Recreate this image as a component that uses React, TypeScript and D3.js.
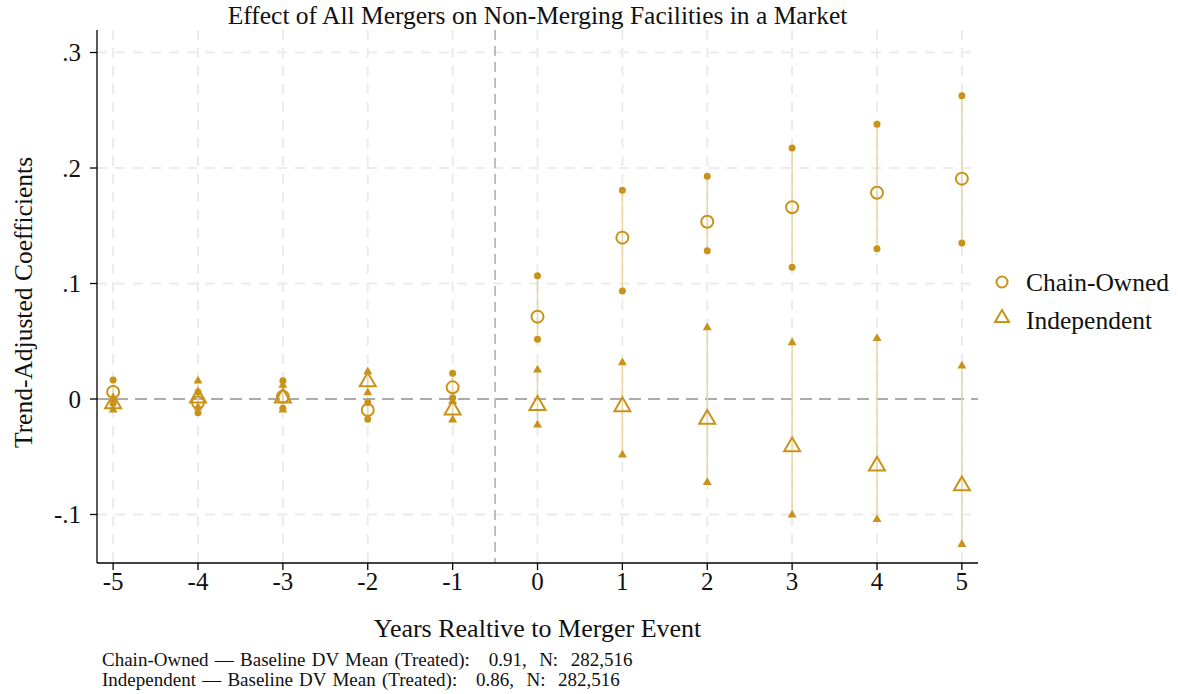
import React from "react";
import * as d3 from "d3";

const years = [-5, -4, -3, -2, -1, 0, 1, 2, 3, 4, 5];
const chainCoef = [0.006, -0.003, 0.002, -0.0095, 0.0101, 0.0713, 0.1397, 0.1535, 0.166, 0.1786, 0.1908];
const chainLo = [-0.004, -0.0118, -0.008, -0.0176, 0.001, 0.0517, 0.0935, 0.1284, 0.114, 0.1302, 0.135];
const chainHi = [0.0164, 0.006, 0.0159, -0.003, 0.0222, 0.1068, 0.1807, 0.1928, 0.2173, 0.2378, 0.2626];
const indCoef = [-0.004, 0.001, 0.001, 0.015, -0.0095, -0.0055, -0.0065, -0.0175, -0.0413, -0.058, -0.075];
const indLo = [-0.0095, -0.007, -0.0095, 0.0055, -0.018, -0.0225, -0.0485, -0.0722, -0.1004, -0.1042, -0.1258];
const indHi = [0.0005, 0.0156, 0.012, 0.0237, -0.002, 0.0251, 0.0315, 0.0618, 0.0488, 0.0525, 0.0286];
const yTicks = [-0.1, 0, 0.1, 0.2, 0.3];
const yTickLabels = ["-.1", "0", ".1", ".2", ".3"];
const legendLabels = ["Chain-Owned", "Independent"];
const notes = [
  "Chain-Owned \u2014 Baseline DV Mean (Treated):\u00a0\u00a0 0.91,\u00a0 N:\u00a0 282,516",
  "Independent \u2014 Baseline DV Mean (Treated):\u00a0\u00a0 0.86,\u00a0 N:\u00a0 282,516",
];

const W = 1178;
const H = 694;
const left = 97;
const right = 978;
const top = 30;
const bottom = 563;
const gold = "#C9931A";
const ciColor = "#E9D6A6";
const font = "'Liberation Serif', 'Times New Roman', serif";

function tri(cx: number, cy: number, s: number) {
  const h = (s * Math.sqrt(3)) / 2;
  return `M${cx},${cy - (2 * h) / 3}L${cx + s / 2},${cy + h / 3}L${cx - s / 2},${cy + h / 3}Z`;
}

export default function App() {
  const x = d3.scaleLinear().domain([-5.19, 5.19]).range([left, right]);
  const y = d3.scaleLinear().domain([-0.142, 0.3195]).range([bottom, top]);

  return (
    <svg width={W} height={H} style={{ position: "absolute", left: 0, top: 0, background: "#fff" }} fontFamily={font}>
      <rect x={0} y={0} width={W} height={H} fill="#fff" />
      {/* grid */}
      {years.map((yr) => (
        <line key={"gx" + yr} x1={x(yr)} x2={x(yr)} y1={top} y2={bottom} stroke="#EBEBEB" strokeWidth={2} strokeDasharray="10,8" />
      ))}
      {yTicks.filter((t) => t !== 0).map((t) => (
        <line key={"gy" + t} x1={left} x2={right} y1={y(t)} y2={y(t)} stroke="#EBEBEB" strokeWidth={2} strokeDasharray="10,8" />
      ))}
      {/* reference lines */}
      <line x1={left} x2={right} y1={y(0)} y2={y(0)} stroke="#ABABAB" strokeWidth={2} strokeDasharray="12,7" />
      <line x1={x(-0.5)} x2={x(-0.5)} y1={top} y2={bottom} stroke="#ABABAB" strokeWidth={1.5} strokeDasharray="10,6" />
      {/* CI lines */}
      {years.map((yr, i) => (
        <g key={"ci" + yr}>
          <line x1={x(yr)} x2={x(yr)} y1={y(chainLo[i])} y2={y(chainHi[i])} stroke={ciColor} strokeWidth={1.5} />
          <line x1={x(yr)} x2={x(yr)} y1={y(indLo[i])} y2={y(indHi[i])} stroke={ciColor} strokeWidth={1.5} />
        </g>
      ))}
      {/* CI end markers */}
      {years.map((yr, i) => (
        <g key={"cm" + yr} fill={gold}>
          <circle cx={x(yr)} cy={y(chainLo[i])} r={3.5} />
          <circle cx={x(yr)} cy={y(chainHi[i])} r={3.5} />
          <path d={tri(x(yr), y(indLo[i]), 9)} />
          <path d={tri(x(yr), y(indHi[i]), 9)} />
        </g>
      ))}
      {/* point estimates */}
      {years.map((yr, i) => (
        <g key={"pt" + yr} fill="none" stroke={gold} strokeWidth={2}>
          <circle cx={x(yr)} cy={y(chainCoef[i])} r={6} />
          <path d={tri(x(yr), y(indCoef[i]), 16)} />
        </g>
      ))}
      {/* axes */}
      <line x1={left} x2={left} y1={top} y2={bottom} stroke="#000" strokeWidth={1.3} />
      <line x1={left} x2={right} y1={bottom} y2={bottom} stroke="#000" strokeWidth={1.3} />
      {yTicks.map((t, i) => (
        <g key={"yt" + t}>
          <line x1={left - 7} x2={left} y1={y(t)} y2={y(t)} stroke="#000" strokeWidth={1.3} />
          <text x={left - 16} y={y(t)} dy="0.35em" textAnchor="end" fontSize={25} fill="#111">
            {yTickLabels[i]}
          </text>
        </g>
      ))}
      {years.map((yr) => (
        <g key={"xt" + yr}>
          <line x1={x(yr)} x2={x(yr)} y1={bottom} y2={bottom + 7} stroke="#000" strokeWidth={1.3} />
          <text x={x(yr)} y={bottom + 27} textAnchor="middle" fontSize={25} fill="#111">
            {yr}
          </text>
        </g>
      ))}
      {/* titles */}
      <text x={(left + right) / 2} y={24} textAnchor="middle" fontSize={25.5} fill="#111">
        Effect of All Mergers on Non-Merging Facilities in a Market
      </text>
      <text x={(left + right) / 2} y={637} textAnchor="middle" fontSize={26} fill="#111">
        Years Realtive to Merger Event
      </text>
      <text transform={`translate(32,${(top + bottom) / 2 + 6}) rotate(-90)`} textAnchor="middle" fontSize={25.5} fill="#111">
        Trend-Adjusted Coefficients
      </text>
      {/* legend */}
      <circle cx={1002} cy={282} r={5.5} fill="none" stroke={gold} strokeWidth={2} />
      <text x={1026} y={282} dy="0.35em" fontSize={25.5} fill="#111">{legendLabels[0]}</text>
      <path d={tri(1002, 318, 14)} fill="none" stroke={gold} strokeWidth={2} />
      <text x={1026} y={320} dy="0.35em" fontSize={25.5} fill="#111">{legendLabels[1]}</text>
      {/* notes */}
      {notes.map((n, i) => (
        <text key={"n" + i} x={102} y={666 + i * 19.5} fontSize={19} fill="#111" wordSpacing={1.5}>{n}</text>
      ))}
    </svg>
  );
}
